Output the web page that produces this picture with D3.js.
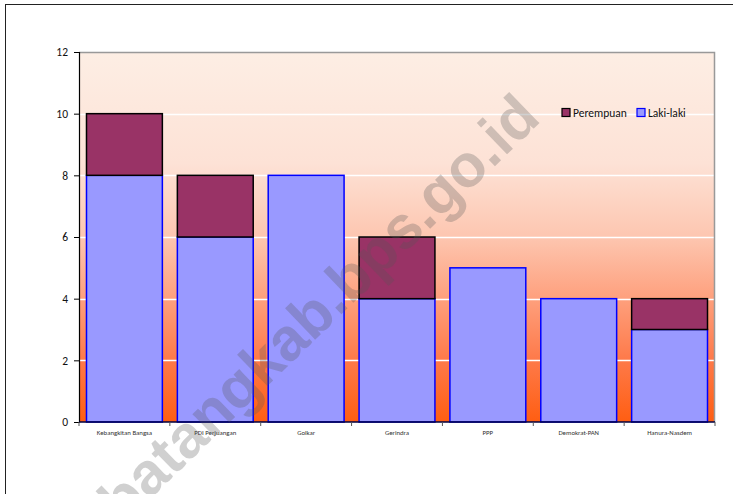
<!DOCTYPE html>
<html>
<head>
<meta charset="utf-8">
<script src="https://cdn.jsdelivr.net/npm/d3@7"></script>
<style>
  html, body { margin: 0; padding: 0; background: #fff; }
  svg { display: block; }
</style>
</head>
<body>
<div id="chart"></div>
<script>
// data
const categories = ['Kebangkitan Bangsa', 'PDI Perjuangan', 'Golkar', 'Gerindra', 'PPP', 'Demokrat-PAN', 'Hanura-Nasdem']
const lakiLaki = [8, 6, 8, 4, 5, 4, 3]
const perempuan = [2, 2, 0, 2, 0, 0, 1]
const yTicks = [0, 2, 4, 6, 8, 10, 12]
const seriesNames = ['Laki-laki', 'Perempuan']
const legendOrder = ['Perempuan', 'Laki-laki']

const W = 733, H = 494
const margin = { left: 79, top: 52, right: 18, bottom: 72 }
const plotW = W - margin.left - margin.right
const plotH = H - margin.top - margin.bottom

const fills = { 'Laki-laki': '#9999ff', 'Perempuan': '#993366' }
const strokes = { 'Laki-laki': '#0000ff', 'Perempuan': '#000000' }

const rows = categories.map((c, i) => ({ cat: c, 'Laki-laki': lakiLaki[i], 'Perempuan': perempuan[i] }))
const stacked = d3.stack().keys(seriesNames)(rows)

const svg = d3.select('#chart').append('svg')
  .attr('width', W).attr('height', H)
  .style('font-family', 'Carlito, Calibri, "Open Sans", "Liberation Sans", sans-serif')

const defs = svg.append('defs')
const grad = defs.append('linearGradient').attr('id', 'bg').attr('x1', 0).attr('y1', 0).attr('x2', 0).attr('y2', 1)
const stops = [[0, '#fdeee4'], [0.3, '#fde2d6'], [0.5, '#fdc6b0'], [0.67, '#fe9f7c'], [0.83, '#fe7a4a'], [1, '#ff5e12']]
stops.forEach(s => grad.append('stop').attr('offset', s[0]).attr('stop-color', s[1]))

// outer border
svg.append('rect')
  .attr('x', 5.5).attr('y', 4.5).attr('width', 760).attr('height', 520)
  .attr('fill', 'none').attr('stroke', '#222').attr('stroke-width', 1)

const x = d3.scaleBand().domain(categories).range([0, plotW]).paddingInner(0.165).paddingOuter(0.0825)
const xStep = d3.scaleBand().domain(categories).range([0, plotW])
const y = d3.scaleLinear().domain([0, 12]).range([plotH, 0])

const g = svg.append('g').attr('transform', `translate(${margin.left},${margin.top})`)

g.append('rect').attr('width', plotW).attr('height', plotH).attr('fill', 'url(#bg)')

// gridlines
g.selectAll('.grid').data(yTicks.filter(t => t > 0 && t < 12)).join('line')
  .attr('x1', 0).attr('x2', plotW)
  .attr('y1', d => Math.round(y(d)) + 0.5).attr('y2', d => Math.round(y(d)) + 0.5)
  .attr('stroke', '#ffffff').attr('stroke-width', 1.5)

// plot border (top, right)
g.append('path')
  .attr('d', `M0,0.5H${plotW - 0.5}V${plotH}`)
  .attr('fill', 'none').attr('stroke', '#999').attr('stroke-width', 1.5)

// bars
g.selectAll('.series').data(stacked).join('g')
  .attr('fill', d => fills[d.key]).attr('stroke', d => strokes[d.key]).attr('stroke-width', 1.5)
  .selectAll('rect').data(d => d.filter(p => p[1] > p[0])).join('rect')
  .attr('x', d => x(d.data.cat))
  .attr('width', x.bandwidth())
  .attr('y', d => y(d[1]))
  .attr('height', d => y(d[0]) - y(d[1]))

// y axis
const yAxis = g.append('g')
  .call(d3.axisLeft(y).tickValues(yTicks).tickSize(5).tickPadding(6))
yAxis.select('.domain').attr('stroke', '#000').attr('stroke-width', 1.2)
yAxis.selectAll('.tick line').attr('stroke', '#000')
yAxis.selectAll('text').attr('font-size', 11.5).attr('fill', '#111')
  .style('font-family', 'Carlito, Calibri, "Open Sans", "Liberation Sans", sans-serif')

// x axis
const xAxis = g.append('g').attr('transform', `translate(0,${plotH})`)
xAxis.append('line').attr('x1', 0).attr('x2', plotW).attr('y1', 0).attr('y2', 0)
  .attr('stroke', '#000040').attr('stroke-width', 1.5)
xAxis.selectAll('.xtick').data(categories.concat(['end'])).join('line')
  .attr('x1', (d, i) => i < categories.length ? xStep(d) : plotW)
  .attr('x2', (d, i) => i < categories.length ? xStep(d) : plotW)
  .attr('y1', 0).attr('y2', 4).attr('stroke', '#555')
xAxis.selectAll('.xlabel').data(categories).join('text')
  .attr('x', d => xStep(d) + xStep.bandwidth() / 2)
  .attr('y', 13)
  .attr('text-anchor', 'middle')
  .attr('font-size', 6.8).attr('fill', '#333')
  .text(d => d)

// legend
const legend = svg.append('g').attr('transform', 'translate(562,113)')
let lx = 0
legendOrder.forEach(k => {
  const item = legend.append('g').attr('transform', `translate(${lx},0)`)
  item.append('rect').attr('x', 0).attr('y', -4.5).attr('width', 8).attr('height', 8)
    .attr('fill', fills[k]).attr('stroke', strokes[k]).attr('stroke-width', 1.2)
  item.append('text').attr('x', 11).attr('y', 0).attr('dy', '0.35em')
    .attr('font-size', 11.5).attr('fill', '#111').text(k)
  lx += 75
})

// watermark
svg.append('text')
  .attr('transform', 'translate(320,310) rotate(-44)')
  .attr('text-anchor', 'middle')
  .attr('dy', '0.3em')
  .attr('font-family', '"Liberation Sans", Arial, sans-serif')
  .attr('font-weight', 'bold')
  .attr('font-size', 60)
  .attr('fill', '#555')
  .attr('fill-opacity', 0.28)
  .text('batangkab.bps.go.id')
</script>
</body>
</html>
